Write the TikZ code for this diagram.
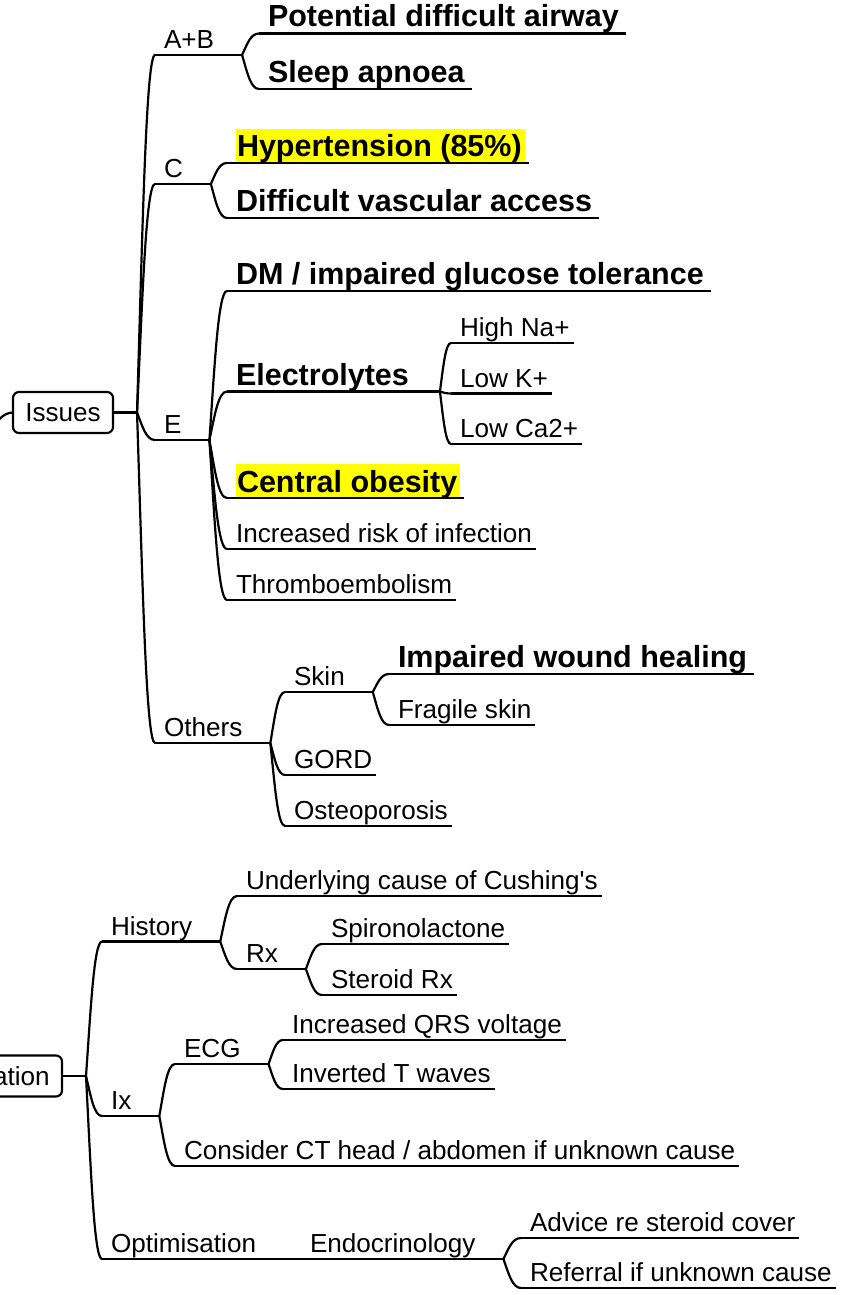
\documentclass[tikz,border=0pt]{standalone}
\usepackage{fontspec}
\setmainfont{Liberation Sans}[Ligatures=TeXOff]
\usetikzlibrary{calc}
\definecolor{marker}{RGB}{255,255,0}
\newcommand\regfont{\fontsize{26.1pt}{31pt}\selectfont}
\newcommand\boldfont{\fontsize{30.5pt}{36pt}\selectfont\bfseries}
% yellow highlight behind a topic's text
\newcommand\marktext[1]{{\setlength{\fboxsep}{0pt}\colorbox{marker}{\hspace*{1pt}\rule[-5.5pt]{0pt}{34pt}#1\hspace*{3pt}}}}

\begin{document}
\begin{tikzpicture}[x=1pt, y=-1pt,
  every node/.style={inner sep=0pt, outer sep=0pt},
  conn/.style={line width=2.2pt, line cap=round},
  uline/.style={line width=2.1pt},
  branch/.style={to path={let \p1=(\tikztostart), \p2=(\tikztotarget) in
      .. controls ({\x1+0.3*(\x2-\x1)},{\y1+0.5*(\y2-\y1)}) and ({\x1+0.5*(\x2-\x1)},\y2) .. (\tikztotarget)}},
  box/.style={draw, line width=2.1pt, rounded corners=6pt, font=\regfont,
      inner xsep=12.3pt, minimum height=41pt, text height=18.5pt, text depth=0pt},
  topic/.style={anchor=south west, font=\regfont, text depth=6.5pt,
      execute at begin node={\hspace*{9pt}}, execute at end node={\hspace*{4pt}}},
  strong/.style={topic, font=\boldfont, text depth=6.5pt, execute at end node={\hspace*{3pt}}},
  marked/.style={topic, font=\boldfont, text depth=6pt},
  hub/.style={execute at end node={\hspace*{24pt}}},
]
\useasboundingbox (0,0) rectangle (843,1295);

% ---------- upper tree ----------
\node[box, anchor=west] (issues) at (13,412.5) {Issues};
\coordinate (issues-j) at ([xshift=24pt]issues.east);
\coordinate (root) at (-70,745);

\node[topic,hub] (ab) at (155,55) {A+B};
\node[strong] (pda) at (259,33.5) {Potential difficult airway};
\node[strong] (sleep) at (259,89) {Sleep apnoea};

\node[topic,hub] (c) at (155,184) {C};
\node[marked] (htn) at (227,163) {\marktext{Hypertension (85\%)}};
\node[strong] (dva) at (227,218) {Difficult vascular access};

\node[topic,hub] (e) at (155,440) {E};
\node[strong] (dm) at (227,291) {DM / impaired glucose tolerance};
\node[strong,hub] (elec) at (227,391.5) {Electrolytes};
\node[topic] (na) at (451,343) {High Na+};
\node[topic] (k) at (451,393.5) {Low K+};
\node[topic] (ca) at (451,444) {Low Ca2+};
\node[marked] (ob) at (227,498) {\marktext{Central obesity}};
\node[topic] (inf) at (227,549) {Increased risk of infection};
\node[topic] (thr) at (227,600) {Thromboembolism};

\node[topic,hub] (oth) at (155,743) {Others};
\node[topic,hub] (skin) at (285,692) {Skin};
\node[strong] (iwh) at (389,674) {Impaired wound healing};
\node[topic] (frag) at (389,725) {Fragile skin};
\node[topic] (gord) at (285,775) {GORD};
\node[topic] (osteo) at (285,826) {Osteoporosis};

% ---------- lower tree ----------
\node[box, anchor=east] (ation) at (62,1076) {ation};
\coordinate (ation-j) at ([xshift=24pt]ation.east);

\node[topic,hub] (hist) at (102,941.5) {History};
\node[topic] (ucc) at (237,896) {Underlying cause of Cushing's};
\node[topic,hub] (rx) at (237,969) {Rx};
\node[topic] (spiro) at (322,944) {Spironolactone};
\node[topic] (srx) at (322,995) {Steroid Rx};

\node[topic,hub] (ix) at (102,1116) {Ix};
\node[topic,hub] (ecg) at (175,1064) {ECG};
\node[topic] (qrs) at (283,1040) {Increased QRS voltage};
\node[topic] (itw) at (283,1089) {Inverted T waves};
\node[topic] (ct) at (175,1166) {Consider CT head / abdomen if unknown cause};

\node[topic,hub] (opt) at (102,1259) {Optimisation};
\node[topic,hub] (endo) at (301,1259) {Endocrinology};
\node[topic] (adv) at (521,1238) {Advice re steroid cover};
\node[topic] (ref) at (521,1288) {Referral if unknown cause};

% ---------- underlines ----------
\foreach \n in {ab,pda,sleep,c,htn,dva,e,dm,elec,na,k,ca,ob,inf,thr,oth,skin,iwh,frag,gord,osteo,
                hist,ucc,rx,spiro,srx,ix,ecg,qrs,itw,ct,opt,endo,adv,ref}
  \draw[uline] (\n.south west) -- (\n.south east);

% ---------- connectors ----------
\draw[conn] (root) to[branch] (issues.west);
\draw[conn] (issues.east) -- (issues-j);
\foreach \b in {ab,c,e,oth}
  \draw[conn] (issues-j) to[branch] (\b.south west);
\draw[conn] (ation.east) -- (ation-j);
\foreach \b in {hist,ix,opt}
  \draw[conn] (ation-j) to[branch] (\b.south west);
\foreach \a/\b in {ab/pda, ab/sleep, c/htn, c/dva, e/dm, e/elec, e/ob, e/inf, e/thr,
                   elec/na, elec/k, elec/ca, oth/skin, oth/gord, oth/osteo, skin/iwh, skin/frag,
                   hist/ucc, hist/rx, rx/spiro, rx/srx, ix/ecg, ix/ct, ecg/qrs, ecg/itw,
                   opt/endo, endo/adv, endo/ref}
  \draw[conn] (\a.south east) to[branch] (\b.south west);
\end{tikzpicture}
\end{document}
